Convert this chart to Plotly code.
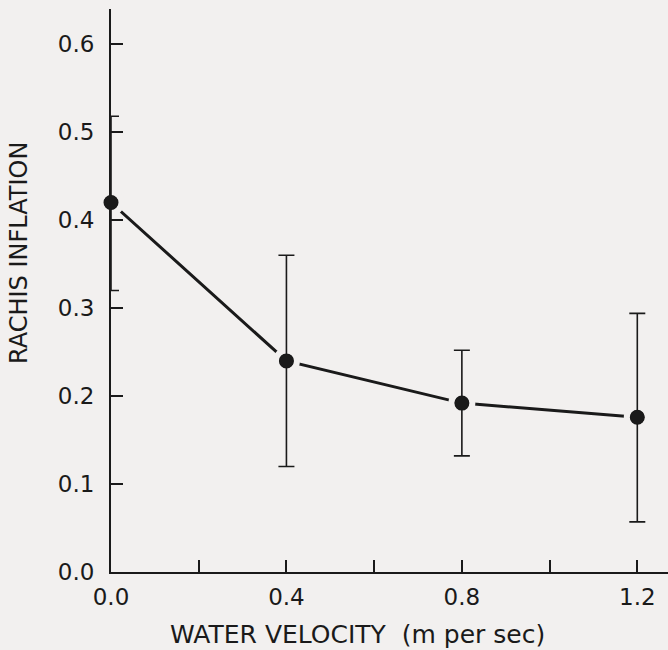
import plotly.graph_objects as go

velocity = [0.0, 0.4, 0.8, 1.2]
inflation = [0.42, 0.24, 0.192, 0.176]
err_plus = [0.098, 0.12, 0.060, 0.118]
err_minus = [0.10, 0.12, 0.060, 0.119]

x_tickvals = [0.0, 0.2, 0.4, 0.6, 0.8, 1.0, 1.2]
x_ticktext = ["0.0", "", "0.4", "", "0.8", "", "1.2"]
y_tickvals = [0.0, 0.1, 0.2, 0.3, 0.4, 0.5, 0.6]
y_ticktext = ["0.0", "0.1", "0.2", "0.3", "0.4", "0.5", "0.6"]

bg = "#f2f0ef"
ink = "#1a1a1a"
font_family = "DejaVu Sans"
tick_font = dict(family=font_family, size=23, color=ink)

fig = go.Figure()
# connecting line
fig.add_trace(go.Scatter(x=velocity, y=inflation, mode="lines",
                         line=dict(color=ink, width=3), showlegend=False,
                         hoverinfo="skip", cliponaxis=False))
# markers with background halo (gap in line)
fig.add_trace(go.Scatter(x=velocity, y=inflation, mode="markers",
                         marker=dict(size=21, color=ink, line=dict(color=bg, width=6)),
                         showlegend=False, cliponaxis=False))
# error bars on top
fig.add_trace(go.Scatter(x=velocity, y=inflation, mode="markers",
                         marker=dict(size=14, color=ink),
                         error_y=dict(type="data", symmetric=False, array=err_plus,
                                      arrayminus=err_minus, color=ink, thickness=1.6, width=8),
                         showlegend=False, cliponaxis=False))

fig.update_layout(
    width=668, height=650,
    paper_bgcolor=bg, plot_bgcolor=bg,
    margin=dict(l=111, r=0, t=9, b=78),
    font=dict(family=font_family, size=22, color=ink),
    xaxis=dict(range=[0, 1.27], showgrid=False, zeroline=False,
               showline=True, linecolor=ink, linewidth=2,
               ticks="inside", ticklen=12, tickwidth=1.5, tickcolor=ink,
               tickvals=x_tickvals, ticktext=x_ticktext, ticklabelstandoff=3,
               tickfont=tick_font),
    yaxis=dict(range=[0, 0.64], showgrid=False, zeroline=False,
               showline=True, linecolor=ink, linewidth=2,
               ticks="inside", ticklen=12, tickwidth=1.5, tickcolor=ink,
               tickvals=y_tickvals, ticktext=y_ticktext, ticklabelstandoff=10,
               tickfont=tick_font),
    annotations=[
        dict(text="WATER VELOCITY  (m per sec)", xref="paper", yref="paper",
             x=(357 - 111) / 557, y=(572 - 634) / 563, xanchor="center", yanchor="middle",
             showarrow=False, font=dict(size=25, family=font_family, color=ink)),
        dict(text="RACHIS INFLATION", xref="paper", yref="paper",
             x=(19 - 111) / 557, y=(572 - 253) / 563, xanchor="center", yanchor="middle",
             textangle=-90, showarrow=False, font=dict(size=24, family=font_family, color=ink)),
    ],
)

fig.write_html("out.html")
